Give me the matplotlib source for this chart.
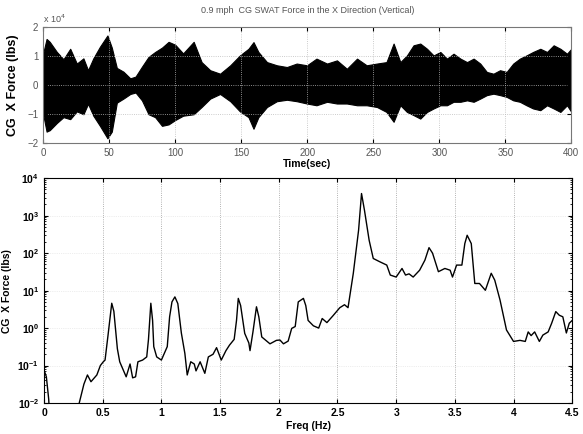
# SWAT model CG force: time history (top) and amplitude spectrum (bottom)
import matplotlib
matplotlib.use("Agg")
import matplotlib.pyplot as plt
from matplotlib.ticker import LogLocator, NullFormatter

plt.rcParams['font.family'] = ['Liberation Sans', 'DejaVu Sans']

# ---- time history envelope (units of 1e4 lbs) ----
time_s = [0, 2.6, 5, 10.4, 15.4, 20.5, 25.5, 30.5, 34, 38, 43, 48.7, 52, 55.8,
          60.8, 66, 70, 74.8, 79.8, 84.8, 90, 95, 100, 106, 114, 120, 126.5,
          134, 141.7, 149, 155.5, 159.3, 163, 169.5, 177, 184.6, 192, 199.8,
          207, 215, 222.5, 230, 237.7, 245, 252.8, 260, 265.4, 270.5, 275.5,
          280.5, 285.6, 290.7, 295.7, 300.8, 305.8, 310.8, 316, 321, 326,
          331, 336, 341, 346, 351, 356, 361, 366, 371, 376.5, 381.6, 386.6,
          391.7, 396.7, 400]
force_hi = [1.1, 1.6, 1.5, 1.15, 0.9, 1.26, 0.75, 0.93, 0.52, 0.93, 1.33, 1.72,
            1.3, 0.6, 0.47, 0.24, 0.3, 0.64, 0.98, 1.15, 1.3, 1.5, 1.4, 1.1,
            1.5, 0.8, 0.52, 0.40, 0.69, 1.03, 1.26, 1.49, 1.15, 0.80, 0.69,
            0.63, 0.75, 0.69, 0.92, 0.75, 0.86, 0.57, 0.92, 0.69, 0.75, 0.80,
            1.44, 0.80, 1.03, 1.38, 1.44, 1.26, 1.03, 1.15, 0.92, 1.09, 0.92,
            0.80, 0.92, 0.75, 0.46, 0.40, 0.52, 0.46, 0.75, 0.92, 1.03, 1.15,
            1.26, 1.15, 1.38, 1.26, 1.09, 1.26]
force_lo = [-1.0, -1.6, -1.55, -1.3, -1.1, -1.17, -0.9, -1.0, -0.64, -1.05,
            -1.4, -1.83, -1.6, -0.6, -0.46, -0.3, -0.25, -0.52, -1.0, -1.1,
            -1.4, -1.35, -1.2, -1.05, -1.0, -0.75, -0.46, -0.30, -0.55, -0.90,
            -1.10, -1.5, -1.1, -0.75, -0.55, -0.5, -0.55, -0.63, -0.69, -0.57,
            -0.63, -0.63, -0.69, -0.69, -0.75, -0.92, -1.26, -0.69, -0.92,
            -1.03, -1.15, -0.92, -0.80, -0.69, -0.69, -0.57, -0.57, -0.52,
            -0.57, -0.46, -0.34, -0.29, -0.34, -0.40, -0.52, -0.57, -0.69,
            -0.80, -0.86, -0.69, -0.80, -0.92, -0.69, -0.92]

# ---- amplitude spectrum (lbs) ----
freq_hz = [0.00, 0.02, 0.04, 0.05, 0.28, 0.30, 0.34, 0.37, 0.40, 0.45, 0.48,
           0.505, 0.52, 0.545, 0.577, 0.595, 0.61, 0.625, 0.645, 0.70, 0.733,
           0.755, 0.78, 0.80, 0.84, 0.875, 0.89, 0.91, 0.925, 0.935, 0.96,
           1.00, 1.05, 1.07, 1.09, 1.115, 1.14, 1.17, 1.20, 1.22, 1.25, 1.28,
           1.295, 1.33, 1.37, 1.40, 1.44, 1.47, 1.51, 1.55, 1.58, 1.62, 1.64,
           1.655, 1.675, 1.71, 1.745, 1.755, 1.78, 1.81, 1.83, 1.855, 1.925,
           1.98, 2.01, 2.04, 2.08, 2.11, 2.14, 2.166, 2.21, 2.23, 2.25, 2.295,
           2.34, 2.37, 2.41, 2.46, 2.52, 2.56, 2.59, 2.635, 2.68, 2.705, 2.73,
           2.77, 2.805, 2.86, 2.92, 2.95, 3.00, 3.05, 3.08, 3.11, 3.145, 3.20,
           3.245, 3.28, 3.31, 3.36, 3.415, 3.46, 3.48, 3.515, 3.56, 3.585,
           3.605, 3.64, 3.67, 3.71, 3.76, 3.81, 3.84, 3.885, 3.94, 4.00, 4.055,
           4.10, 4.125, 4.15, 4.18, 4.22, 4.25, 4.295, 4.325, 4.36, 4.39, 4.42,
           4.45, 4.475, 4.50]
amp_lbs = [0.076, 0.050, 0.0126, 0.0032, 0.0032, 0.010, 0.032, 0.056, 0.037,
           0.056, 0.10, 0.126, 0.14, 0.63, 4.6, 2.8, 0.89, 0.28, 0.126, 0.050,
           0.11, 0.047, 0.050, 0.126, 0.14, 0.17, 0.50, 4.6, 1.6, 0.32, 0.17,
           0.14, 0.32, 2.0, 5.0, 6.8, 4.5, 0.74, 0.21, 0.056, 0.126, 0.11,
           0.072, 0.126, 0.062, 0.17, 0.20, 0.30, 0.14, 0.25, 0.35, 0.50, 1.6,
           6.2, 4.0, 0.72, 0.40, 0.25, 0.79, 3.7, 2.0, 0.58, 0.38, 0.47, 0.48,
           0.38, 0.45, 0.98, 1.1, 5.0, 6.2, 4.0, 1.6, 1.15, 1.0, 1.8, 1.4, 2.1,
           3.5, 4.2, 3.5, 29, 410, 3900, 1400, 220, 72, 59, 48, 26, 23, 39, 26,
           28, 23, 35, 65, 140, 100, 32, 39, 35, 23, 48, 48, 180, 300, 180,
           15.5, 15.5, 10.2, 29, 19, 5.6, 0.89, 0.44, 0.47, 0.44, 0.79, 0.63,
           0.79, 0.44, 0.65, 0.79, 1.35, 2.75, 2.2, 2.0, 0.74, 1.35, 1.6]

fig = plt.figure(figsize=(5.83, 4.34), dpi=100)

# top: time history
ax1 = fig.add_axes([0.074, 0.670, 0.906, 0.267])
ax1.fill_between(time_s, force_lo, force_hi, color='black', lw=0.8)
ax1.set_xlim(0, 400)
ax1.set_ylim(-2, 2)
ax1.set_xticks(range(0, 401, 50))
ax1.set_yticks([-2, -1, 0, 1, 2])
ax1.grid(True, ls=':', color='#bbbbbb', lw=0.6)
ax1.tick_params(direction='in', top=True, right=True, labelsize=7,
                labelcolor='#555555', length=3)
ax1.set_xlabel('Time(sec)', fontsize=7.5, fontweight='bold', labelpad=1)
ax1.set_ylabel('CG  X Force (lbs)', fontsize=9, fontweight='bold', labelpad=6)
ax1.set_title('0.9 mph  CG SWAT Force in the X Direction (Vertical)',
              fontsize=6.5, color='#555555', pad=10)
ax1.text(0.0, 1.02, r'x 10$^4$', transform=ax1.transAxes, fontsize=6.5,
         color='#555555', ha='left', va='bottom')
for s in ax1.spines.values():
    s.set_color('#777777')

# bottom: spectrum
ax2 = fig.add_axes([0.0755, 0.0714, 0.906, 0.518])
ax2.semilogy(freq_hz, amp_lbs, color='black', lw=1.0)
ax2.set_xlim(0, 4.5)
ax2.set_ylim(1e-2, 1e4)
ax2.set_xticks([0, 0.5, 1, 1.5, 2, 2.5, 3, 3.5, 4, 4.5])
ax2.set_xticklabels(['0', '0.5', '1', '1.5', '2', '2.5', '3', '3.5', '4', '4.5'])
ax2.yaxis.set_major_locator(LogLocator(base=10, numticks=10))
ax2.yaxis.set_minor_locator(LogLocator(base=10, subs=range(2, 10), numticks=10))
ax2.yaxis.set_minor_formatter(NullFormatter())
ax2.xaxis.grid(True, ls=':', color='#999999', lw=0.6)
ax2.yaxis.grid(True, ls=':', color='#dddddd', lw=0.5)
ax2.tick_params(direction='in', top=True, right=True, labelsize=7.5, length=3)
ax2.tick_params(which='minor', direction='in', right=True, length=1.5)
for lab in ax2.get_xticklabels() + ax2.get_yticklabels():
    lab.set_fontweight('bold')
ax2.set_xlabel('Freq (Hz)', fontsize=7.5, fontweight='bold', labelpad=2)
ax2.set_ylabel('CG  X Force (lbs)', fontsize=7.5, fontweight='bold', labelpad=4)

fig.savefig('out.png', dpi=100)
